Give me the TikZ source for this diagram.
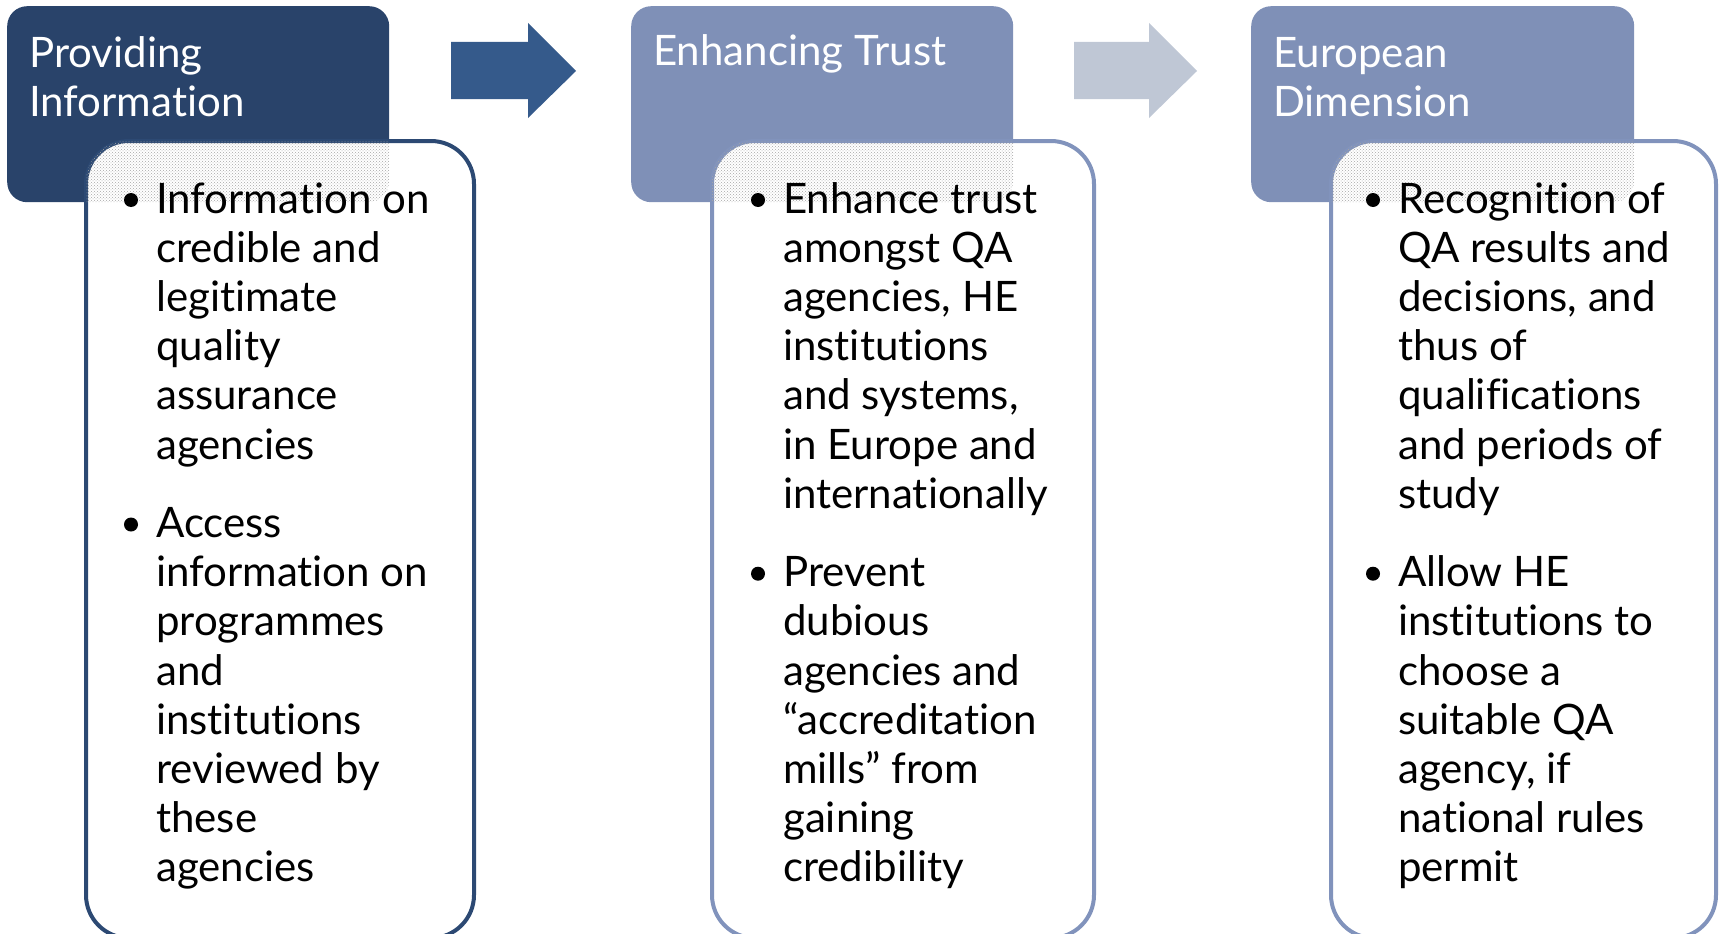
\documentclass[tikz,border=0pt]{standalone}
\usepackage{fontspec}
\setmainfont{Lato}[RawFeature={-liga;-clig;-dlig;-rlig;-calt;-ccmp}]
\usetikzlibrary{patterns}

\definecolor{headdark}{HTML}{29436A}
\definecolor{headlight}{HTML}{7F90B7}
\definecolor{arrowdark}{HTML}{355A8B}
\definecolor{arrowlight}{HTML}{BFC7D5}
\definecolor{borderdark}{HTML}{2C4973}
\definecolor{borderlight}{HTML}{8193BC}

% a block of lines whose baseline is that of its first line
\newcommand\linesblock[1]{\begin{tabular}[t]{@{}l@{}}#1\end{tabular}}

\tikzset{
  txt/.style={font=\fontsize{42}{49.2}\selectfont},
  headbox/.style={fill=#1, rounded corners=20pt, inner sep=0pt, anchor=north west},
  headtext/.style={txt, text=white, inner sep=0pt, anchor=base west},
  cardbox/.style={draw=#1, line width=4pt, fill=white, rounded corners=43pt,
                  inner sep=0pt, anchor=north west},
  itemtext/.style={txt, inner sep=0pt, anchor=base west},
  dotmark/.style={circle, fill=black, inner sep=0pt, minimum size=14pt},
  shade/.style={pattern=crosshatch dots, pattern color=black!35},
  flow/.style={fill=#1},
}

\begin{document}
\begin{tikzpicture}[x=1pt,y=-1pt]
\useasboundingbox (0,0) rectangle (1719,934);

% ---- headers ----
\node[headbox=headdark,  minimum width=382pt, minimum height=196pt] (h1) at (7,6) {};
\node[headbox=headlight, minimum width=382pt, minimum height=196pt] (h2) at (631,6) {};
\node[headbox=headlight, minimum width=383pt, minimum height=196pt] (h3) at (1251,6) {};

\node[headtext] (t1) at (29,67) {\linesblock{Providing\\Information}};
\node[headtext] (t2) at (653,66) {\linesblock{Enhancing Trust}};
\node[headtext] (t3) at (1273,67) {\linesblock{European\\Dimension}};

% ---- arrows between the stages ----
\fill[flow=arrowdark] (451,42) -- (528,42) -- (528,23) -- (576,71) -- (528,118)
  -- (528,99) -- (451,99) -- cycle;
\fill[flow=arrowlight] (1074,42) -- (1149,42) -- (1149,23) -- (1197,71) -- (1149,118)
  -- (1149,99) -- (1074,99) -- cycle;

% ---- cards ----
\node[cardbox=borderdark,  minimum width=388pt, minimum height=797pt] (c1) at (84,139) {};
\node[cardbox=borderlight, minimum width=382pt, minimum height=797pt] (c2) at (710,139) {};
\node[cardbox=borderlight, minimum width=385pt, minimum height=797pt] (c3) at (1329,139) {};

% dotted overlap where a card lies over its header
\begin{scope}
  \clip[rounded corners=41pt] (86,141) rectangle (470,934);
  \fill[shade, rounded corners=20pt] (7,6) rectangle (389,202);
\end{scope}
\begin{scope}
  \clip[rounded corners=41pt] (712,141) rectangle (1090,934);
  \fill[shade, rounded corners=20pt] (631,6) rectangle (1013,202);
\end{scope}
\begin{scope}
  \clip[rounded corners=41pt] (1331,141) rectangle (1712,934);
  \fill[shade, rounded corners=20pt] (1251,6) rectangle (1634,202);
\end{scope}

% ---- card 1 ----
\node[dotmark] (b11) at (131,200) {};
\node[itemtext] (i11) at (156,213) {\linesblock{Information on\\credible and\\legitimate\\quality\\assurance\\agencies}};
\node[dotmark] (b12) at (131,524.5) {};
\node[itemtext] (i12) at (156,537.5) {\linesblock{Access\\information on\\programmes\\and\\institutions\\reviewed by\\these\\agencies}};

% ---- card 2 ----
\node[dotmark] (b21) at (758,200) {};
\node[itemtext] (i21) at (783,213) {\linesblock{Enhance trust\\amongst QA\\agencies, HE\\institutions\\and systems,\\in Europe and\\internationally}};
\node[dotmark] (b22) at (758,573.7) {};
\node[itemtext] (i22) at (783,586.7) {\linesblock{Prevent\\dubious\\agencies and\\“accreditation\\mills” from\\gaining\\credibility}};

% ---- card 3 ----
\node[dotmark] (b31) at (1373,200) {};
\node[itemtext] (i31) at (1398,213) {\linesblock{Recognition of\\QA results and\\decisions, and\\thus of\\qualifications\\and periods of\\study}};
\node[dotmark] (b32) at (1373,573.7) {};
\node[itemtext] (i32) at (1398,586.7) {\linesblock{Allow HE\\institutions to\\choose a\\suitable QA\\agency, if\\national rules\\permit}};
\end{tikzpicture}
\end{document}
